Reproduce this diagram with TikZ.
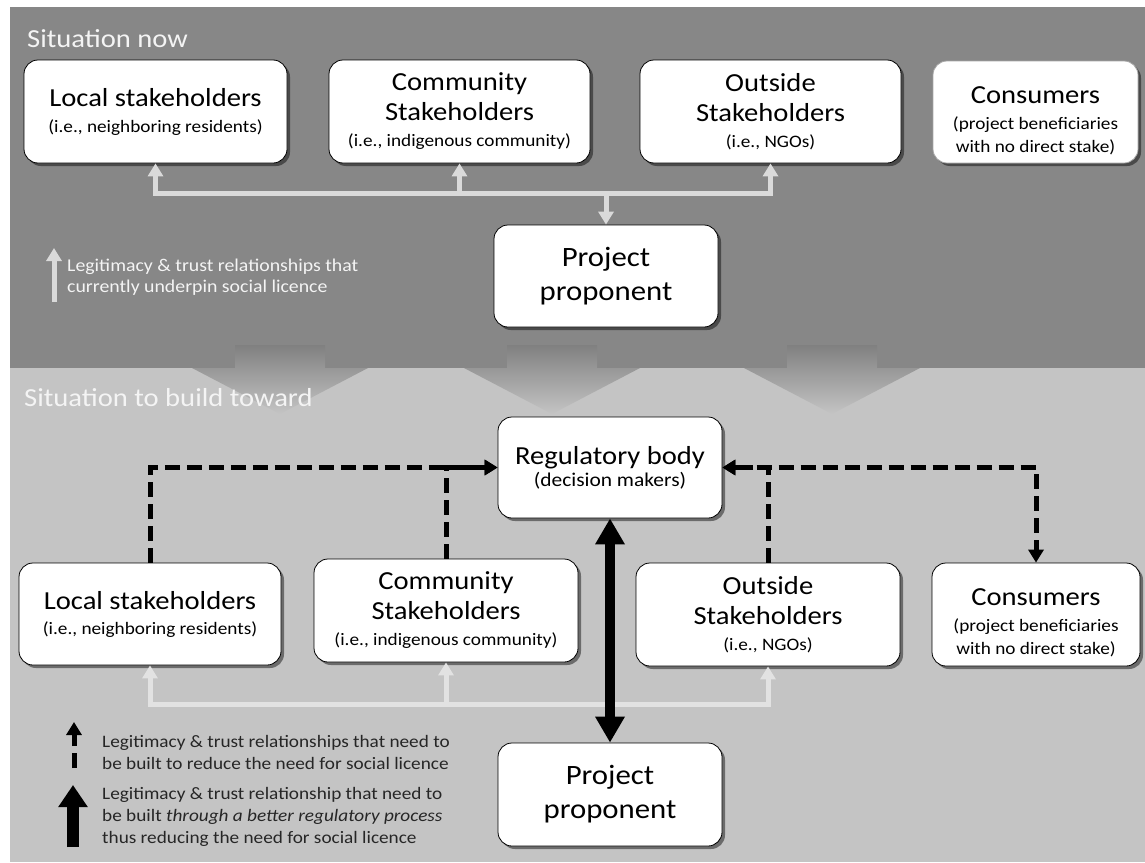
\documentclass[tikz,border=0pt]{standalone}
\usepackage{fontspec}
\setmainfont[FakeStretch=1.1]{Carlito}
\usetikzlibrary{arrows.meta,shadows}
\definecolor{topband}{HTML}{878787}
\definecolor{botband}{HTML}{C4C4C4}
\definecolor{lightarr}{HTML}{DADADA}
\definecolor{lightarrb}{HTML}{E2E2E2}
\definecolor{titlecol}{HTML}{F4F4F4}
\definecolor{legtext}{HTML}{262626}
\definecolor{chevtop}{HTML}{808080}
\newcommand\fsMain{\fontsize{26pt}{30pt}\selectfont}
\newcommand\fsSub{\fontsize{17.5pt}{21pt}\selectfont}
\newcommand\fsSubB{\fontsize{19.5pt}{23pt}\selectfont}
\newcommand\fsBig{\fontsize{28pt}{34pt}\selectfont}
\newcommand\fsTitle{\fontsize{26pt}{30pt}\selectfont}
\newcommand\fsLeg{\fontsize{17.5pt}{22pt}\selectfont}
\newcommand\fsLegT{\fontsize{18pt}{21pt}\selectfont}
\begin{document}
\begin{tikzpicture}[x=1pt,y=-1pt,
  box/.style={draw=black, line width=0.8pt, fill=white, rounded corners=14pt,
    align=center, inner sep=0pt, font=\fsMain, text=black,
    drop shadow={shadow xshift=3pt, shadow yshift=-3pt, opacity=0.45, fill=black}},
  bigbox/.style={box, font=\fsBig},
  lgt/.style={draw=lightarr, line width=5pt, -{Triangle[width=15pt,length=13pt]}},
  lgtb/.style={draw=lightarrb, line width=5pt, -{Triangle[width=15pt,length=13pt]}},
  dsh/.style={draw=black, line width=5pt, dash pattern=on 15pt off 7pt,
    -{Triangle[width=15pt,length=13pt]}},
  thk/.style={draw=black, line width=10pt,
    {Triangle[width=28pt,length=26pt]}-{Triangle[width=28pt,length=26pt]}},
  ttl/.style={anchor=base west, inner sep=0pt, text=titlecol, font=\fsTitle},
  leg/.style={anchor=west, inner sep=0pt, align=left, font=\fsLeg}
]
\useasboundingbox (0,0) rectangle (1145,862);
\fill[white] (0,0) rectangle (1145,862);
% bands
\fill[topband] (10,7) rectangle (1145,368);
\fill[botband] (10,368) rectangle (1145,862);
% chevrons
\foreach \cx in {280,552,832}{
  \shade[top color=chevtop, bottom color=botband]
    ({\cx-45},345) -- ({\cx+45},345) -- ({\cx+45},368) -- ({\cx+88},368)
    -- (\cx,414) -- ({\cx-88},368) -- ({\cx-45},368) -- cycle;
}
% titles
\node[ttl] (t1) at (27,47) {Situation now};
\node[ttl] (t2) at (24,406) {Situation to build toward};

% ---------- top section ----------
\node[box, minimum width=263pt, minimum height=103pt] (L1) at (155.5,111.5)
  {Local stakeholders\\[-4pt]{\fsSub (i.e., neighboring residents)}};
\node[box, minimum width=261pt, minimum height=103pt] (C1) at (459.5,111.5)
  {Community\\Stakeholders\\[-4pt]{\fsSub (i.e., indigenous community)}};
\node[box, minimum width=261pt, minimum height=103pt] (O1) at (770.5,111.5)
  {Outside\\Stakeholders\\[-4pt]{\fsSub (i.e., NGOs)}};
\node[box, draw=gray!70, minimum width=205pt, minimum height=102pt] (N1) at (1035.5,112)
  {\rule{0pt}{34pt}Consumers\\[-4pt]{\fsSub (project beneficiaries}\\[-7pt]{\fsSub with no direct stake)}};
\node[bigbox, minimum width=224pt, minimum height=102pt] (P1) at (606,276)
  {Project\\proponent};

\coordinate (jt) at (606,193);
\draw[lgt] (jt) -| (L1.south);
\draw[lgt] (jt) -| (C1.south);
\draw[lgt] (jt) -| (O1.south);
\draw[lgt] (jt) -- (P1.north);

\coordinate (ia) at (54,302);
\coordinate (ib) at (54,248);
\draw[lgt] (ia) -- (ib);
\node[leg, text=titlecol, font=\fsLegT] (lg1) at (67,277)
  {Legitimacy \& trust relationships that\\currently underpin social licence};

% ---------- bottom section ----------
\node[box, minimum width=224pt, minimum height=101pt] (R2) at (610,467.5)
  {Regulatory body\\[-8pt]{\fsSubB (decision makers)}};
\node[box, minimum width=262pt, minimum height=102pt] (L2) at (150,614)
  {Local stakeholders\\[-5pt]{\fsSub (i.e., neighboring residents)}};
\node[box, minimum width=264pt, minimum height=103pt] (C2) at (446,610.5)
  {Community\\Stakeholders\\[-4pt]{\fsSub (i.e., indigenous community)}};
\node[box, minimum width=264pt, minimum height=103pt] (O2) at (768,614.5)
  {Outside\\Stakeholders\\[-4pt]{\fsSub (i.e., NGOs)}};
\node[box, minimum width=208pt, minimum height=103pt] (N2) at (1036,614.5)
  {\rule{0pt}{34pt}Consumers\\[-4pt]{\fsSub (project beneficiaries}\\[-7pt]{\fsSub with no direct stake)}};
\node[bigbox, minimum width=224pt, minimum height=103pt] (P2) at (610,794.5)
  {Project\\proponent};

\coordinate (jb) at (610,704);
\draw[lgtb] (jb) -| (L2.south);
\draw[lgtb] (jb) -| (C2.south);
\draw[lgtb] (jb) -| (O2.south);

\draw[dsh] (L2.north) |- (R2.west);
\draw[dsh] (C2.north) |- (R2.west);
\draw[dsh] (O2.north) |- (R2.east);
\draw[dsh, {Triangle[width=15pt,length=13pt]}-{Triangle[width=15pt,length=13pt]}]
  (R2.east) -| (N2.north);

\draw[thk] (R2.south) -- (P2.north);

% legend bottom
\coordinate (da) at (74,768);
\coordinate (db) at (74,722);
\draw[dsh] (da) -- (db);
\node[leg, text=legtext] (lg2) at (102,752)
  {Legitimacy \& trust relationships that need to\\be built to reduce the need for social licence};
\coordinate (ta) at (73,847);
\coordinate (tb) at (73,785);
\draw[draw=black, line width=12pt, -{Triangle[width=28pt,length=22pt]}] (ta) -- (tb);
\node[leg, text=legtext] (lg3) at (102,817)
  {Legitimacy \& trust relationship that need to\\be built \textit{through a better regulatory process}\\thus reducing the need for social licence};
\end{tikzpicture}
\end{document}
